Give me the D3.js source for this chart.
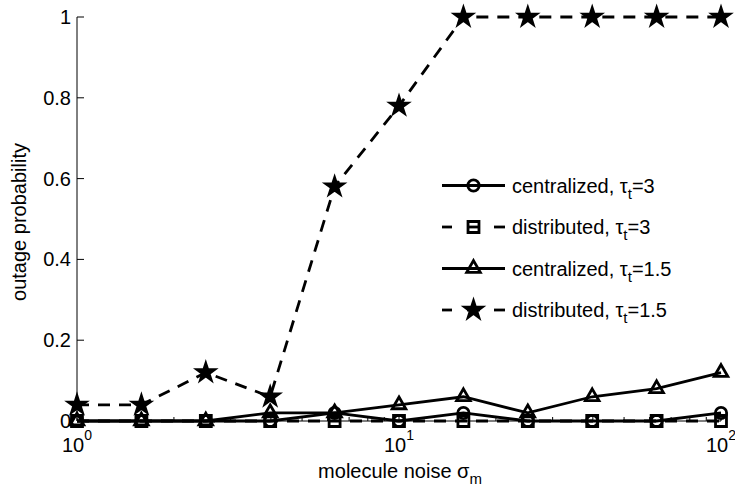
<!DOCTYPE html>
<html>
<head>
<meta charset="utf-8">
<script src="https://cdn.jsdelivr.net/npm/d3@7"></script>
<style>
  html, body { margin: 0; padding: 0; background: #fff; }
  svg { display: block; }
  text { font-family: "Liberation Sans", Arial, sans-serif; fill: #000; }
</style>
</head>
<body>
<svg id="chart" width="735" height="486"></svg>
<script>
// noise levels (log-spaced) and outage probability per scheme
const sigma = [1, 1.585, 2.512, 3.981, 6.310, 10, 15.85, 25.12, 39.81, 63.10, 100];
const centralized3  = [0, 0, 0, 0, 0.02, 0, 0.02, 0, 0, 0, 0.02];
const distributed3  = [0, 0, 0, 0, 0, 0, 0, 0, 0, 0, 0];
const centralized15 = [0, 0, 0, 0.02, 0.02, 0.04, 0.06, 0.02, 0.06, 0.08, 0.12];
const distributed15 = [0.04, 0.04, 0.12, 0.06, 0.58, 0.78, 1, 1, 1, 1, 1];

const yTicks = [0, 0.2, 0.4, 0.6, 0.8, 1];
const yTickLabels = ["0", "0.2", "0.4", "0.6", "0.8", "1"];
const xTicks = [1, 10, 100];
const xTickExponents = ["0", "1", "2"];

const series = [
  { name: "centralized", tau: "3",   values: centralized3,  dashed: false, marker: "circle" },
  { name: "distributed", tau: "3",   values: distributed3,  dashed: true,  marker: "square" },
  { name: "centralized", tau: "1.5", values: centralized15, dashed: false, marker: "triangle" },
  { name: "distributed", tau: "1.5", values: distributed15, dashed: true,  marker: "star" }
];

const svg = d3.select("#chart");
const plotLeft = 77, plotRight = 721, plotTop = 17, plotBottom = 421;

const x = d3.scaleLog().domain([1, 100]).range([plotLeft, plotRight]);
const y = d3.scaleLinear().domain([0, 1]).range([plotBottom, plotTop]);

const FONT = 20;
const LW = 2.8;
const DASH = "12,9";

// markers
const markerSymbols = {
  circle:   { type: d3.symbolCircle,   size: 100, fill: "none" },
  square:   { type: d3.symbolSquare,   size: 120, fill: "none" },
  triangle: { type: d3.symbolTriangle, size: 80,  fill: "none" },
  star:     { type: d3.symbolStar,     size: 90,  fill: "#000" }
};
function drawMarker(g, kind, cx, cy) {
  const m = markerSymbols[kind];
  g.append("path")
    .attr("d", d3.symbol().type(m.type).size(m.size)())
    .attr("transform", `translate(${cx},${cy})`)
    .attr("fill", m.fill)
    .attr("stroke", "#000")
    .attr("stroke-width", 2.8)
    .attr("stroke-linejoin", "miter");
}

// axes
const axes = svg.append("g");
axes.append("line").attr("x1", plotLeft).attr("x2", plotLeft).attr("y1", plotTop).attr("y2", plotBottom)
  .attr("stroke", "#000").attr("stroke-width", 1);
axes.append("line").attr("x1", plotLeft).attr("x2", plotRight).attr("y1", plotBottom).attr("y2", plotBottom)
  .attr("stroke", "#000").attr("stroke-width", 1);

// y ticks (inward) and labels
yTicks.forEach((v, i) => {
  axes.append("line").attr("x1", plotLeft).attr("x2", plotLeft + 7)
    .attr("y1", y(v)).attr("y2", y(v)).attr("stroke", "#000").attr("stroke-width", 1);
  axes.append("text").attr("x", plotLeft - 6).attr("y", y(v) + 7)
    .attr("text-anchor", "end").attr("font-size", FONT).text(yTickLabels[i]);
});

// x minor ticks on the log axis
const minor = [];
[1, 10].forEach(d => { for (let k = 2; k <= 9; k++) minor.push(k * d); });
minor.forEach(v => {
  axes.append("line").attr("x1", x(v)).attr("x2", x(v))
    .attr("y1", plotBottom).attr("y2", plotBottom - 4).attr("stroke", "#000").attr("stroke-width", 1);
});
// x major ticks and 10^k labels
xTicks.forEach((v, i) => {
  axes.append("line").attr("x1", x(v)).attr("x2", x(v))
    .attr("y1", plotBottom).attr("y2", plotBottom - 7).attr("stroke", "#000").attr("stroke-width", 1);
  const t = axes.append("text").attr("x", x(v)).attr("y", 452)
    .attr("text-anchor", "middle").attr("font-size", FONT);
  t.append("tspan").text("10");
  t.append("tspan").attr("font-size", 14).attr("dy", -12).text(xTickExponents[i]);
});

// axis titles
const xl = svg.append("text").attr("x", 400).attr("y", 478)
  .attr("text-anchor", "middle").attr("font-size", FONT);
xl.append("tspan").text("molecule noise σ");
xl.append("tspan").attr("font-size", 15).attr("dy", 6).text("m");

svg.append("text")
  .attr("transform", "translate(26,222) rotate(-90)")
  .attr("text-anchor", "middle").attr("font-size", FONT)
  .text("outage probability");

// series lines and markers
const line = d3.line().x((d, i) => x(sigma[i])).y(d => y(d));
series.forEach(s => {
  const g = svg.append("g");
  g.append("path").datum(s.values)
    .attr("d", line)
    .attr("fill", "none")
    .attr("stroke", "#000")
    .attr("stroke-width", LW)
    .attr("stroke-dasharray", s.dashed ? DASH : null);
  s.values.forEach((v, i) => drawMarker(g, s.marker, x(sigma[i]), y(v)));
});

// legend: line sample, marker, label with subscripted tau
const lg = svg.append("g");
series.forEach((s, i) => {
  const ry = 185.5 + i * 41.5;
  const segs = s.dashed ? [[442, 452], [467, 480], [494, 505]] : [[442, 505]];
  segs.forEach(([a, b]) => {
    lg.append("line").attr("x1", a).attr("x2", b).attr("y1", ry).attr("y2", ry)
      .attr("stroke", "#000").attr("stroke-width", LW);
  });
  drawMarker(lg, s.marker, 473.5, ry);
  const t = lg.append("text").attr("x", 512).attr("y", ry + 7).attr("font-size", FONT);
  t.append("tspan").text(s.name + ", τ");
  t.append("tspan").attr("font-size", 15).attr("dy", 6).text("t");
  t.append("tspan").attr("dy", -6).text("=" + s.tau);
});
</script>
</body>
</html>
